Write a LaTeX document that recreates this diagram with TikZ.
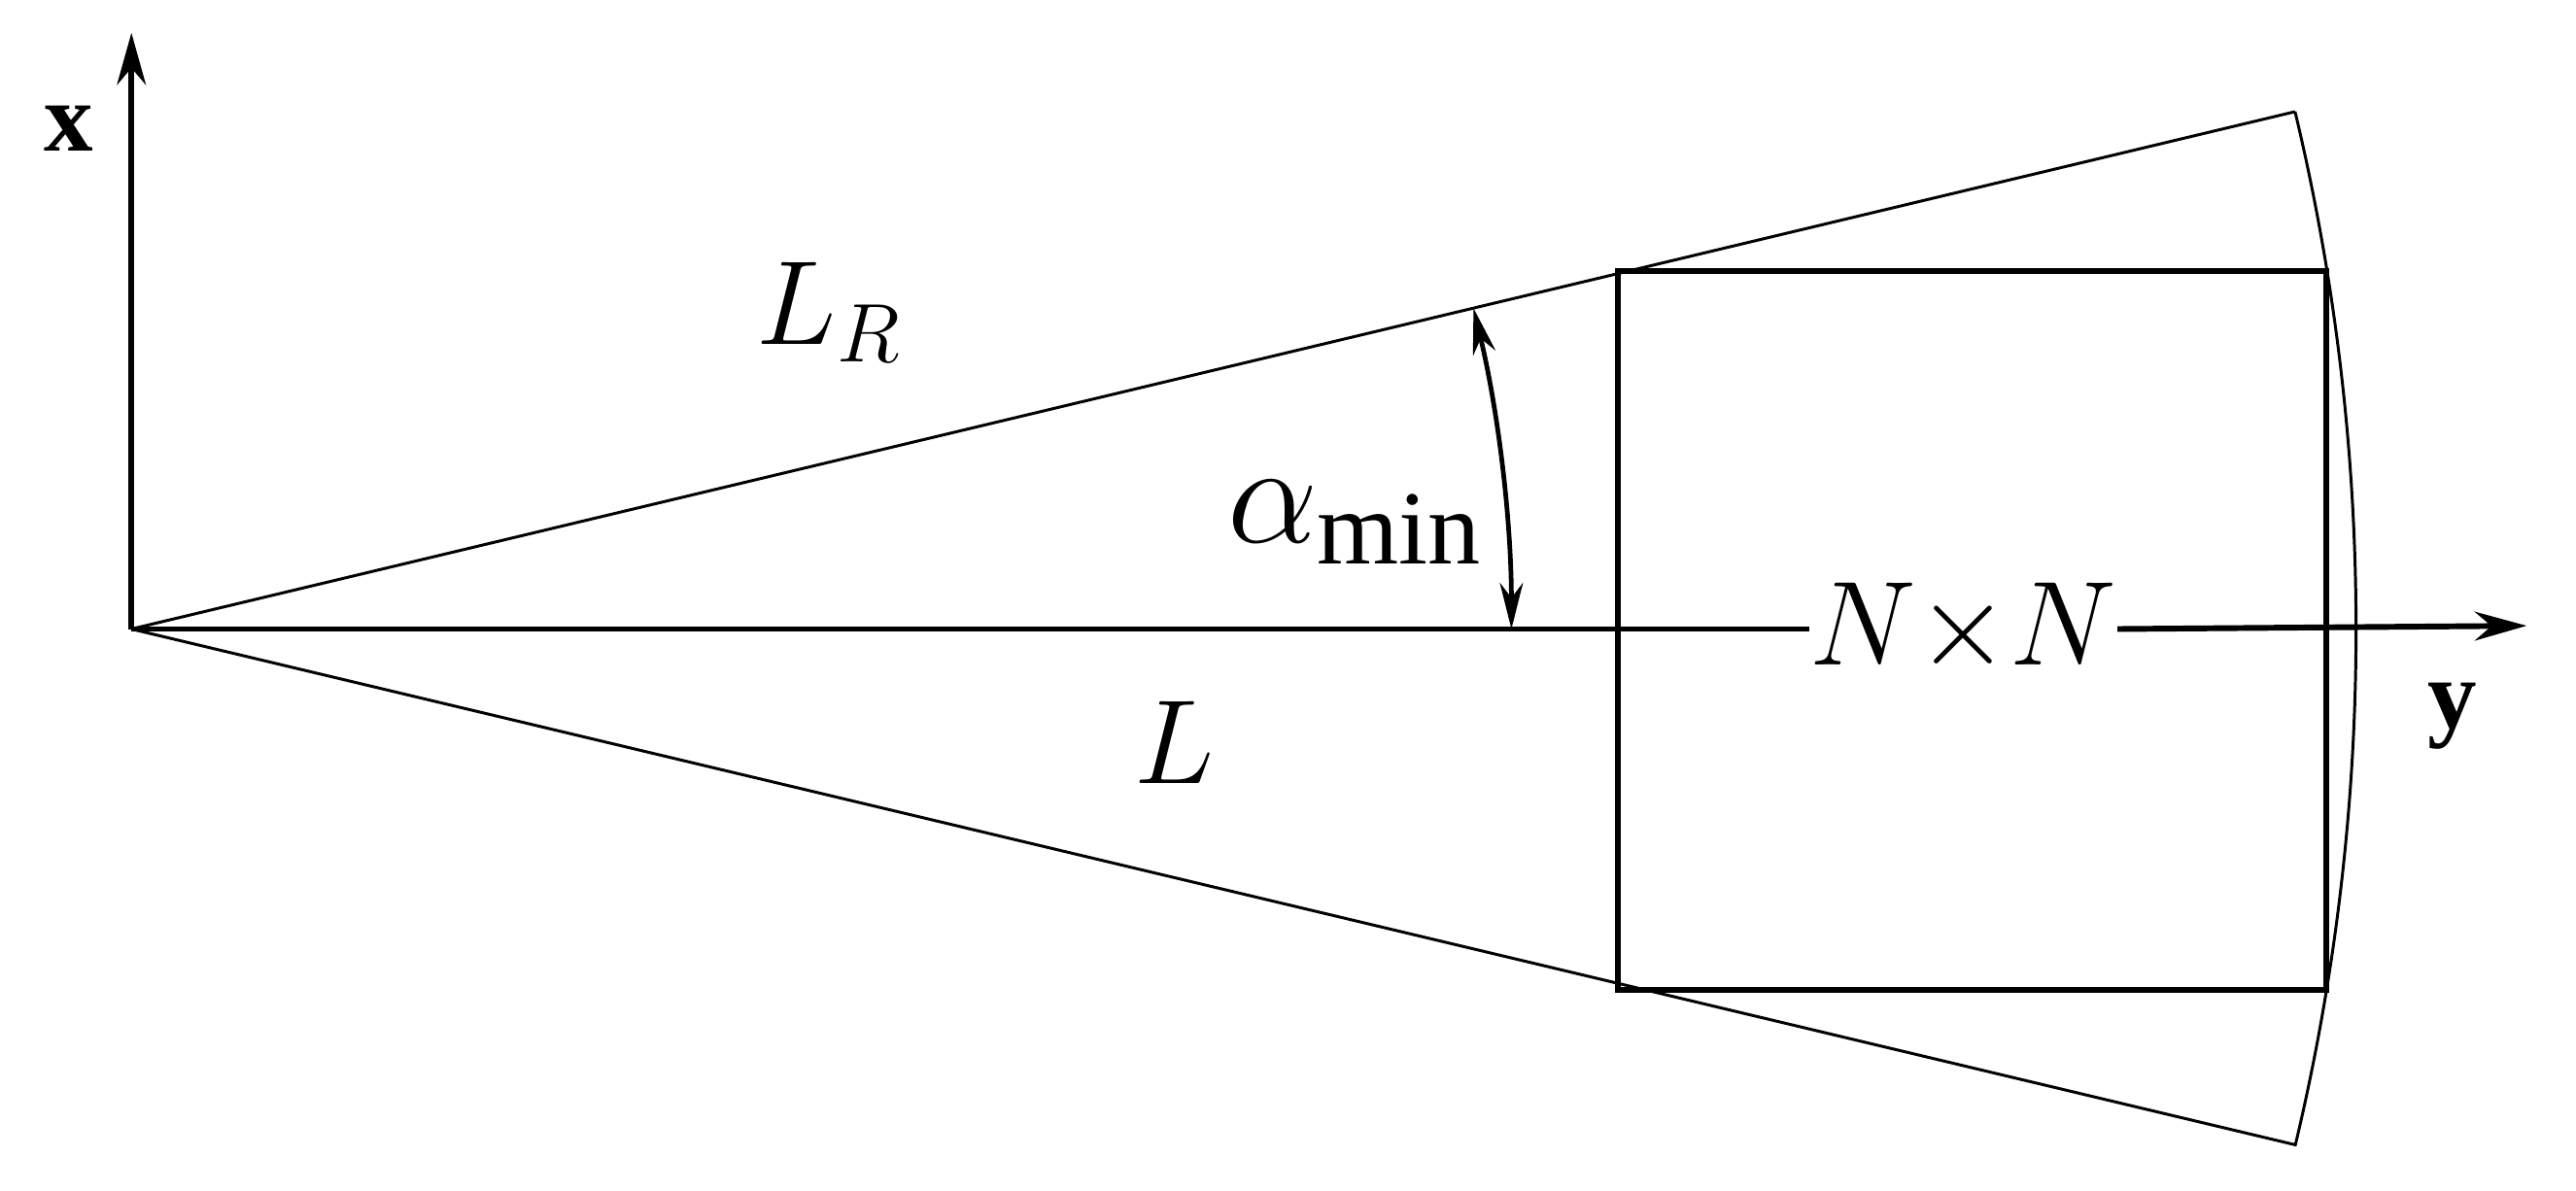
\documentclass[tikz,border=0pt]{standalone}
\usepackage{fontspec}
\setmainfont{Liberation Serif}
\usetikzlibrary{arrows.meta}
\begin{document}
\begin{tikzpicture}[x=0.01cm,y=-0.01cm,
  thin line/.style={line width=0.5pt},
  axis/.style={line width=1pt,-{Stealth[length=9pt,width=5pt]}},
  lab/.style={inner sep=0pt,font=\fontsize{17}{20}\selectfont}]
\useasboundingbox (0,0) rectangle (1568,725);
\coordinate (O) at (80,383);
\coordinate (xend) at (80,20);
\coordinate (T) at (1397,68);
\coordinate (B) at (1397,697);
\coordinate (yend) at (1538,381);
\draw[axis] (O) -- (xend);
\draw[thin line] (O) -- (T);
\draw[thin line] (O) -- (B);
\draw[thin line] (T) arc[start angle=-13.45,end angle=13.45,radius=1354];
\draw[line width=1pt] (985,165) rectangle (1416,603);
\node[lab,font=\fontsize{21}{24}\selectfont] (nn) at (1195,383) {$N{\times}N$};
\draw[line width=1pt] (O) -- (nn.west);
\draw[axis] (nn.east) -- (yend);
\draw[line width=0.8pt,{Stealth[length=8pt,width=4pt]}-{Stealth[length=8pt,width=4pt]}]
  (920,383) arc[start angle=0,end angle=-13.45,radius=840];
\node[lab,font=\fontsize{21}{24}\selectfont] (LR) at (505,190) {$L_R$};
\node[lab,font=\fontsize{21}{24}\selectfont] (L) at (715,452) {$L$};
\node[lab,font=\fontsize{26}{30}\selectfont] (a) at (825,318) {$\alpha_{\mathrm{min}}$};
\node[lab,font=\fontsize{17}{20}\selectfont\bfseries] (xl) at (42,78) {x};
\node[lab,font=\fontsize{17}{20}\selectfont\bfseries] (yl) at (1493,436) {y};
\end{tikzpicture}
\end{document}
